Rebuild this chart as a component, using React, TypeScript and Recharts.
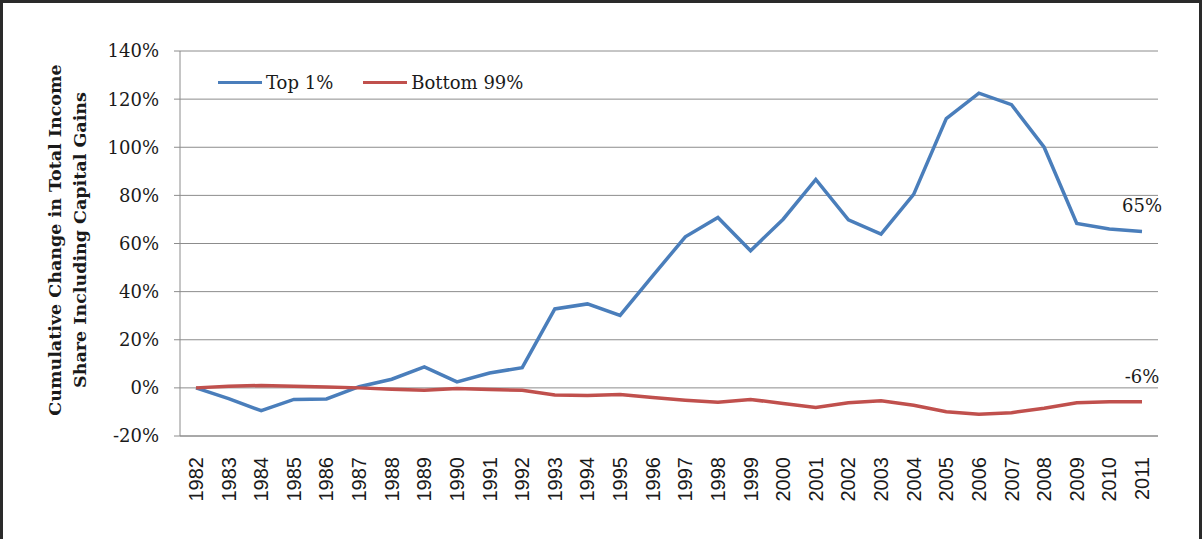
import React from "react";
import {
  LineChart, Line, XAxis, YAxis, CartesianGrid, Legend,
} from "recharts";

// ── Data ─────────────────────────────────────────────────────

const years = [
  "1982", "1983", "1984", "1985", "1986", "1987", "1988", "1989", "1990", "1991",
  "1992", "1993", "1994", "1995", "1996", "1997", "1998", "1999", "2000", "2001",
  "2002", "2003", "2004", "2005", "2006", "2007", "2008", "2009", "2010", "2011",
];

const top1 = [
  0, -4.5, -9.5, -4.8, -4.6, 0.5, 3.6, 8.7, 2.5, 6.2,
  8.4, 32.8, 34.9, 30.1, 46.5, 62.8, 70.8, 57.0, 70.1, 86.6,
  69.8, 63.9, 80.4, 111.9, 122.5, 117.7, 100.0, 68.3, 66.0, 65.0,
];

const bottom99 = [
  0, 0.7, 1.0, 0.7, 0.4, 0, -0.6, -1.0, -0.3, -0.7,
  -1.0, -3.0, -3.2, -2.8, -4.0, -5.1, -6.0, -4.8, -6.5, -8.1,
  -6.2, -5.4, -7.2, -9.9, -11.0, -10.3, -8.5, -6.2, -5.8, -5.8,
];

const yTicks = [-20, 0, 20, 40, 60, 80, 100, 120, 140];

const titleLines = ["Cumulative Change in Total Income", "Share Including Capital Gains"];

const series = [
  { key: "top1", name: "Top 1%", color: "#4a7ebb" },
  { key: "bottom99", name: "Bottom 99%", color: "#c0504d" },
];

const data = years.map((year, i) => ({ year, top1: top1[i], bottom99: bottom99[i] }));

// ── Styles ───────────────────────────────────────────────────

const SERIF = "'DejaVu Serif', serif";
const SANS = "'Liberation Sans', Arial, sans-serif";
const GRID = "#8c8c8c";
const TEXT = "#1a1a1a";

// ── Helpers ──────────────────────────────────────────────────

const YearTick = (props: any) => {
  const { x, y, payload } = props;
  const ty = y + 13;
  return (
    <text
      x={x} y={ty}
      transform={`rotate(-90, ${x}, ${ty})`}
      textAnchor="end" dominantBaseline="central"
      style={{ fontFamily: SANS, fontSize: 20, fill: TEXT }}
    >
      {payload.value}
    </text>
  );
};

const AxisTitle = () => (
  <g>
    {titleLines.map((t, i) => {
      const x = 55 + i * 25;
      return (
        <text
          key={i} x={x} y={240}
          transform={`rotate(-90, ${x}, 240)`}
          textAnchor="middle" dominantBaseline="central"
          style={{ fontFamily: SERIF, fontSize: 17.5, fontWeight: 700, fill: TEXT }}
        >
          {t}
        </text>
      );
    })}
  </g>
);

const endLabel = (last: number) => (props: any) => {
  const { x, y, value, index } = props;
  if (index !== last) return null;
  return (
    <text
      x={x} y={y - 19} textAnchor="middle"
      style={{ fontFamily: SERIF, fontSize: 18, fill: TEXT }}
    >
      {`${Math.round(value)}%`}
    </text>
  );
};

const LegendBox = () => (
  <div style={{ display: "flex", alignItems: "center", fontFamily: SERIF, fontSize: 18, color: TEXT }}>
    {series.map((s, i) => (
      <span key={s.key} style={{ display: "flex", alignItems: "center", marginRight: i === 0 ? 30 : 0 }}>
        <span style={{ width: 44, height: 3, background: s.color, display: "inline-block", marginRight: 4 }} />
        {s.name}
      </span>
    ))}
  </div>
);

// ── Chart ────────────────────────────────────────────────────

export default function App() {
  return (
    <div style={{ position: "absolute", left: 0, top: 0, width: 1202, height: 539, background: "#fff" }}>
      <LineChart
        width={1202} height={539} data={data}
        margin={{ top: 51, right: 44, left: 0, bottom: 8 }}
      >
        <CartesianGrid horizontal vertical={false} stroke={GRID} strokeWidth={1} />
        <XAxis
          dataKey="year" height={95} interval={0}
          padding={{ left: 16, right: 16 }}
          axisLine={{ stroke: GRID }} tickLine={false}
          tick={<YearTick />}
        />
        <YAxis
          width={180} domain={[-20, 140]} ticks={yTicks} interval={0}
          tickFormatter={(v: number) => `${v}%`}
          axisLine={{ stroke: GRID }} tickLine={{ stroke: GRID }} tickSize={6} tickMargin={15}
          tick={{ fontFamily: SERIF, fontSize: 18, fill: TEXT }}
          label={<AxisTitle />}
        />
        <Legend
          layout="horizontal" verticalAlign="middle" align="center"
          content={<LegendBox />}
          wrapperStyle={{ top: 72, left: 218, width: "auto" }}
        />
        {series.map((s) => (
          <Line
            key={s.key} dataKey={s.key} name={s.name}
            stroke={s.color} strokeWidth={3.5} dot={false} activeDot={false}
            isAnimationActive={false}
            label={endLabel(years.length - 1)}
          />
        ))}
      </LineChart>
      <div
        style={{
          position: "absolute", left: 0, top: 0, width: 1202, height: 539, boxSizing: "border-box",
          borderLeft: "3px solid #2a2a2a", borderTop: "3px solid #2a2a2a", borderRight: "3px solid #2a2a2a",
          pointerEvents: "none",
        }}
      />
    </div>
  );
}
